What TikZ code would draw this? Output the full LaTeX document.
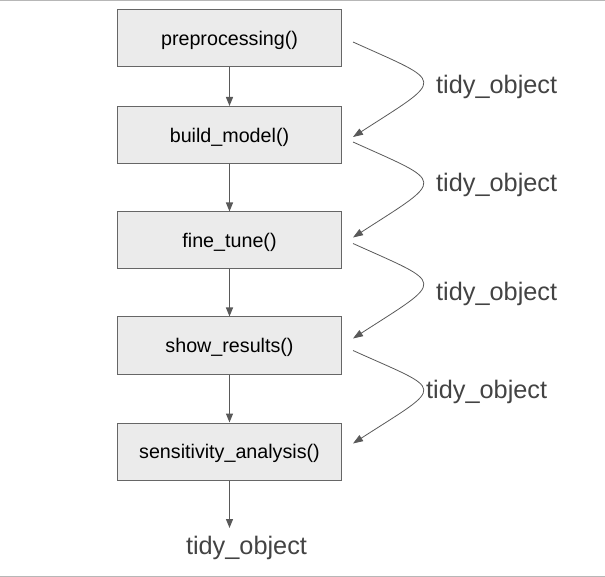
\documentclass[tikz,border=0pt]{standalone}
\usepackage{fontspec}
\setmainfont{Liberation Sans}
\usetikzlibrary{arrows.meta}
\definecolor{boxfill}{HTML}{EBEBEB}
\definecolor{boxline}{HTML}{666666}
\definecolor{arrowgray}{HTML}{595959}
\definecolor{labelgray}{HTML}{434343}
\definecolor{framegray}{HTML}{B7B7B7}
\begin{document}
\begin{tikzpicture}[x=1pt,y=-1pt,
  fnbox/.style={draw=boxline, fill=boxfill, line width=1pt, minimum width=224pt, minimum height=57pt, inner sep=0pt, text depth=0pt, font=\fontsize{19.7}{22}\selectfont, text=black},
  flow/.style={draw=arrowgray, line width=1.2pt, -{Triangle[length=9pt,width=7pt]}},
  pass/.style={draw=arrowgray, line width=0.8pt, -{Triangle[length=10pt,width=7pt]}},
  lbl/.style={font=\fontsize{25.3}{28}\selectfont, text=labelgray, inner sep=0pt, anchor=west}]
\useasboundingbox (0,0) rectangle (605,577);
\draw[framegray, line width=1pt] (0,0.5) -- (605,0.5);
\draw[framegray, line width=1pt] (0,576) -- (605,576);

\node[fnbox] (b1) at (229.5,38) {preprocessing()};
\node[fnbox] (b2) at (229.5,135) {build\_model()};
\node[fnbox] (b3) at (229.5,240.5) {fine\_tune()};
\node[fnbox] (b4) at (229.5,345.5) {show\_results()};
\node[fnbox] (b5) at (229.5,451.5) {sensitivity\_analysis()};
\node[lbl, anchor=center] (out) at (246.5,548) {tidy\_object};
\coordinate (outtip) at (229.5,528);

\draw[flow] (b1) -- (b2);
\draw[flow] (b2) -- (b3);
\draw[flow] (b3) -- (b4);
\draw[flow] (b4) -- (b5);
\draw[flow] (b5) -- (outtip);

\draw[pass] ([xshift=11pt,yshift=-4pt]b1.east) .. controls +(93,42) and +(93,-60) .. ([xshift=11pt,yshift=-2pt]b2.east);
\draw[pass] ([xshift=11pt,yshift=-7pt]b2.east) .. controls +(93,42) and +(93,-60) .. ([xshift=11pt,yshift=3pt]b3.east);
\draw[pass] ([xshift=11pt,yshift=-3pt]b3.east) .. controls +(93,42) and +(93,-60) .. ([xshift=11pt,yshift=7pt]b4.east);
\draw[pass] ([xshift=11pt,yshift=-5pt]b4.east) .. controls +(93,42) and +(93,-60) .. ([xshift=11pt,yshift=8pt]b5.east);

\node[lbl] (t1) at (436,87) {tidy\_object};
\node[lbl] (t2) at (436,185) {tidy\_object};
\node[lbl] (t3) at (436,294) {tidy\_object};
\node[lbl] (t4) at (426,392) {tidy\_object};
\end{tikzpicture}
\end{document}
